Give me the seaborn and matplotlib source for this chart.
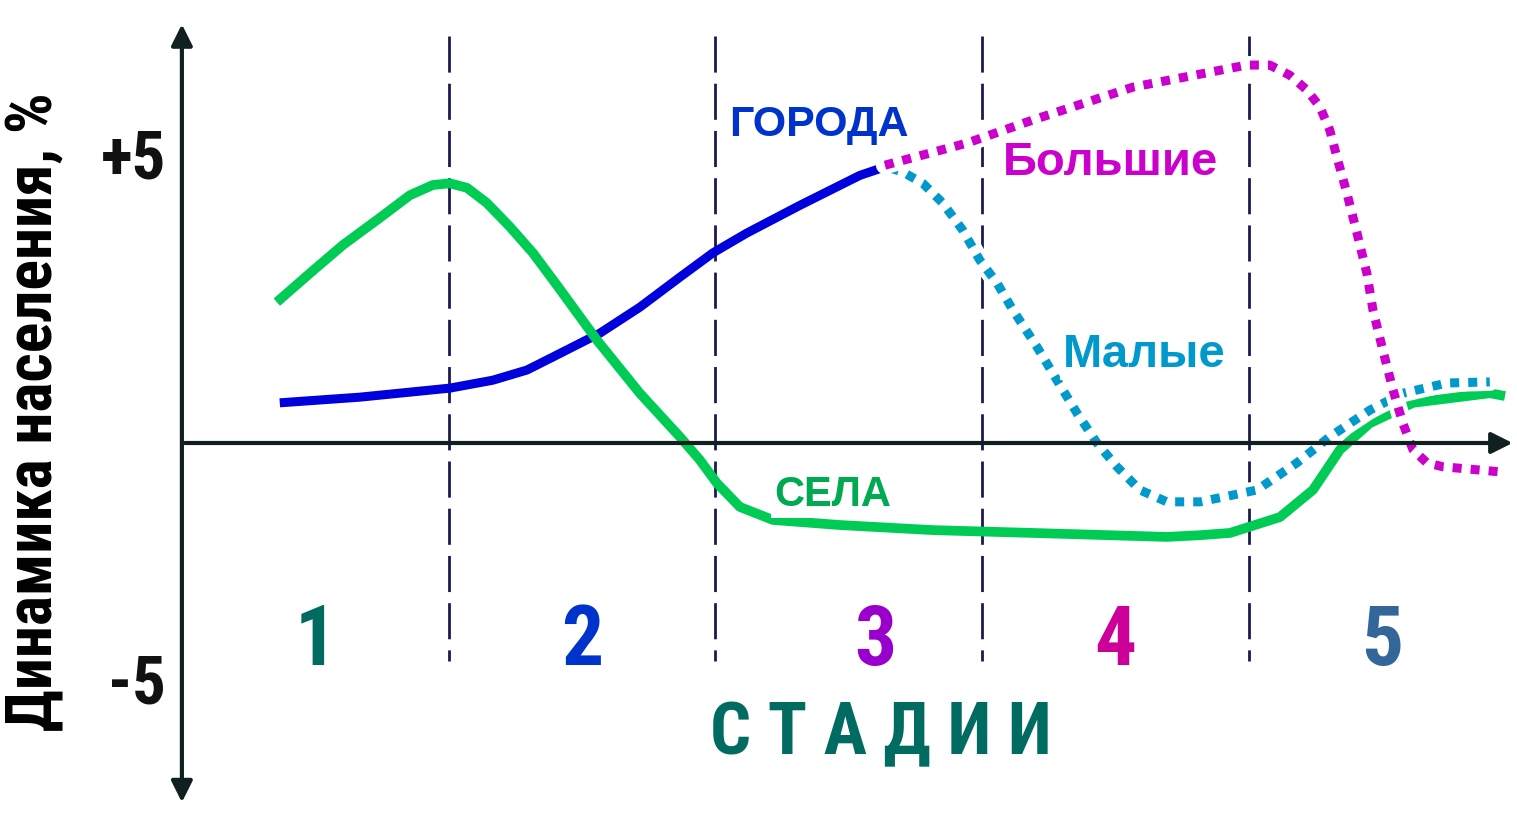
import pandas as pd
import seaborn as sns
import matplotlib.pyplot as plt

# values (x: stage scale 0..5, y: population change, %)
cities_x = [0.367, 0.667, 1.005, 1.166, 1.294, 1.391, 1.567, 1.717, 1.867, 1.991, 2.118,
            2.317, 2.542, 2.655]
cities_y = [0.71, 0.81, 0.97, 1.11, 1.29, 1.52, 1.94, 2.40, 2.93, 3.36, 3.71,
            4.20, 4.73, 4.91]

villages_x = [0.356, 0.480, 0.604, 0.731, 0.855, 0.941, 1.005, 1.069, 1.144, 1.230, 1.316,
              1.406, 1.556, 1.717, 1.867, 1.942, 2.006, 2.092, 2.216, 2.467, 2.816, 3.191,
              3.693, 3.817, 3.930, 4.117, 4.241, 4.342, 4.454, 4.616, 4.904, 4.961]
villages_y = [2.49, 3.00, 3.50, 3.94, 4.38, 4.56, 4.59, 4.51, 4.24, 3.82, 3.36,
              2.79, 1.82, 0.88, 0.11, -0.30, -0.71, -1.13, -1.36, -1.45, -1.54, -1.59,
              -1.66, -1.63, -1.59, -1.31, -0.83, -0.12, 0.35, 0.71, 0.88, 0.83]

big_x = [2.636, 2.943, 3.191, 3.566, 3.993, 4.079, 4.154, 4.218, 4.267, 4.304, 4.331,
         4.368, 4.406, 4.443, 4.466, 4.503, 4.541, 4.578, 4.616, 4.668, 4.728, 4.942]
big_y = [4.91, 5.30, 5.71, 6.29, 6.68, 6.68, 6.50, 6.24, 5.94, 5.53, 5.05,
         4.42, 3.71, 3.00, 2.35, 1.64, 0.94, 0.35, -0.12, -0.35, -0.42, -0.51]

small_x = [2.655, 2.703, 2.778, 2.853, 2.928, 2.992, 3.056, 3.116, 3.206, 3.281, 3.356,
           3.431, 3.506, 3.592, 3.693, 3.817, 3.941, 4.031, 4.181, 4.304, 4.454, 4.578,
           4.743, 4.904]
small_y = [4.86, 4.79, 4.59, 4.24, 3.76, 3.23, 2.83, 2.35, 1.70, 1.11, 0.53,
           0.0, -0.42, -0.83, -1.04, -1.04, -0.92, -0.83, -0.35, 0.11, 0.58, 0.88,
           1.06, 1.08]

stage_bounds = [1, 2, 3, 4]
stage_labels = ['1', '2', '3', '4', '5']
stage_centers = [0.5, 1.5, 2.6, 3.5, 4.5]
stage_colors = ['#006b60', '#0033cc', '#9900cc', '#cc0099', '#336699']

y_ticks = [5, -4.28]
y_tick_labels = ['+5', '-5']


def draw_line(ax, xs, ys, color, lw, dotted=False):
    df = pd.DataFrame({'x': xs, 'y': ys})
    if dotted:
        sns.lineplot(data=df, x='x', y='y', ax=ax, sort=False, estimator=None,
                     color='white', lw=lw * 2.0, solid_capstyle='round', solid_joinstyle='round')
        sns.lineplot(data=df, x='x', y='y', ax=ax, sort=False, estimator=None,
                     color=color, lw=lw, linestyle=(0, (1, 1)), dash_capstyle='butt',
                     dash_joinstyle='round')
    else:
        sns.lineplot(data=df, x='x', y='y', ax=ax, sort=False, estimator=None,
                     color=color, lw=lw, solid_capstyle='butt', solid_joinstyle='round')


sns.set_theme(style='white')
narrow = ['Roboto Condensed', 'Liberation Sans']
plt.rcParams['font.family'] = ['Liberation Sans', 'DejaVu Sans']

fig = plt.figure(figsize=(15.17, 8.13), dpi=100)
ax = fig.add_axes([0, 0, 1, 1])
ax.set_xlim(-0.682, 5.006)
ax.set_ylim(-6.54, 7.83)
ax.axis('off')

# axes with arrows
ax.annotate('', xy=(0, 7.45), xytext=(0, -6.4),
            arrowprops=dict(arrowstyle='<|-|>', color='#102020', lw=3, mutation_scale=32))
ax.annotate('', xy=(5.0, 0), xytext=(0, 0),
            arrowprops=dict(arrowstyle='-|>', color='#102020', lw=3, mutation_scale=32))

for b in stage_bounds:
    ax.plot([b, b], [7.2, -3.85], color='#1a1a50', lw=2, linestyle=(0, (13, 4)))

draw_line(ax, cities_x, cities_y, '#0000dd', 6.5)
draw_line(ax, villages_x, villages_y, '#00cc55', 7)
draw_line(ax, small_x, small_y, '#0099cc', 6.5, dotted=True)
draw_line(ax, big_x, big_y, '#cc00cc', 6.5, dotted=True)

box = dict(facecolor='white', edgecolor='none', pad=2)
ax.text(2.39, 5.62, 'ГОРОДА', color='#0033cc', fontsize=31, fontweight='bold',
        ha='center', va='center', bbox=box)
ax.text(3.48, 4.95, 'Большие', color='#cc00cc', fontsize=34, fontweight='bold',
        ha='center', va='center', bbox=box)
ax.text(3.61, 1.55, 'Малые', color='#0099cc', fontsize=34, fontweight='bold',
        ha='center', va='center', bbox=box)
ax.text(2.44, -0.92, 'СЕЛА', color='#00aa50', fontsize=30, fontweight='bold',
        ha='center', va='center', bbox=box)

for c, lab, col in zip(stage_centers, stage_labels, stage_colors):
    ax.text(c, -3.52, lab, color=col, fontsize=60, fontweight='bold',
            ha='center', va='center', family=narrow)

ax.text(2.62, -5.16, 'С Т А Д И И', color='#006b60', fontsize=52, fontweight='bold',
        ha='center', va='center', family=narrow)

for t, lab in zip(y_ticks, y_tick_labels):
    ax.text(-0.06, t, lab, color='#111111', fontsize=48, fontweight='bold',
            ha='right', va='center', family=narrow)

ax.text(-0.55, 0.55, 'Динамика населения, %', color='black', fontsize=46, fontweight='bold',
        rotation=90, ha='center', va='center', family=narrow)

fig.savefig('out.png', dpi=100)
